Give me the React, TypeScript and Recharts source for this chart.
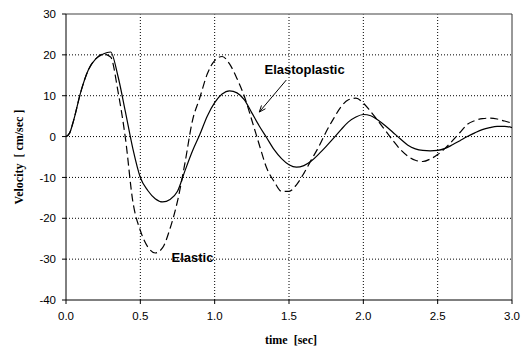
import {
  CartesianGrid,
  Label,
  Line,
  LineChart,
  ReferenceDot,
  ReferenceLine,
  XAxis,
  YAxis,
} from "recharts";

// time in seconds
const time = [
  0, 0.025, 0.05, 0.1, 0.15, 0.2, 0.25, 0.3, 0.35, 0.4, 0.45, 0.5, 0.55, 0.6,
  0.65, 0.7, 0.75, 0.8, 0.85, 0.9, 0.95, 1.0, 1.05, 1.1, 1.15, 1.2, 1.25, 1.3,
  1.35, 1.4, 1.45, 1.5, 1.55, 1.6, 1.65, 1.7, 1.75, 1.8, 1.85, 1.9, 1.95, 2.0,
  2.05, 2.1, 2.15, 2.2, 2.25, 2.3, 2.35, 2.4, 2.45, 2.5, 2.55, 2.6, 2.65, 2.7,
  2.75, 2.8, 2.85, 2.9, 2.95, 3.0,
];

// velocity, cm/sec
const elastic = [
  0, 0.9, 3.8, 11.0, 16.3, 19.0, 20.2, 19.5, 11.0, -0.5, -16.0, -23.0, -27.0,
  -28.5, -27.2, -22.5, -15.8, -6.5, 3.8, 9.5, 15.3, 18.6, 19.6, 17.8, 14.2, 9.8,
  4.0, -2.0, -7.7, -11.0, -13.4, -13.4, -11.8, -9.0, -5.7, -2.5, 1.2, 4.4, 7.3,
  9.0, 9.4, 8.2, 6.1, 3.8, 1.4, -1.0, -3.2, -4.8, -5.8, -6.1, -5.5, -4.4, -2.9,
  -1.0, 1.0, 3.0, 3.9, 4.4, 4.5, 4.3, 3.8, 3.3,
];

const elastoplastic = [
  0, 0.9, 3.8, 11.0, 16.3, 19.0, 20.2, 20.7, 14.7, 6.0, -3.0, -10.0, -13.2,
  -15.2, -16.0, -15.4, -13.4, -8.4, -3.6, 0.5, 5.0, 8.3, 10.4, 11.2, 10.7, 9.0,
  5.8, 2.6, -0.3, -3.2, -5.4, -6.9, -7.5, -7.1, -6.0, -4.3, -2.4, -0.4, 1.7,
  3.6, 4.8, 5.4, 5.1, 4.0, 2.6, 1.0, -0.6, -2.1, -3.0, -3.4, -3.5, -3.4, -2.9,
  -2.0, -1.0, 0.0, 0.9, 1.7, 2.2, 2.5, 2.5, 2.2,
];

const xTicks = [0, 0.5, 1.0, 1.5, 2.0, 2.5, 3.0];
const yTicks = [-40, -30, -20, -10, 0, 10, 20, 30];
const xGrid = [0.5, 1.0, 1.5, 2.0, 2.5];
const yGrid = [-30, -20, -10, 0, 10, 20];

const data = time.map((t, i) => ({
  t,
  elastic: elastic[i],
  elastoplastic: elastoplastic[i],
}));

const tickStyle = { fill: "#000", fontSize: 11.5, fontFamily: "Liberation Sans, Arial" };
const noteFont = { fontFamily: "Liberation Sans, Arial", fontWeight: "bold", fontSize: 13 };
const titleFont = { fontFamily: "Liberation Serif, Times New Roman", fontWeight: "bold", fontSize: 12 };

const YTitle = (props: any) => {
  const { x, y, height } = props.viewBox;
  const cx = x + 19;
  const cy = y + height / 2;
  return (
    <text
      x={cx}
      y={cy}
      transform={`rotate(-90, ${cx}, ${cy})`}
      textAnchor="middle"
      dominantBaseline="central"
      style={{ whiteSpace: "pre" }}
      {...titleFont}
    >
      {"Velocity  [ cm/sec ]"}
    </text>
  );
};

const XTitle = (props: any) => {
  const { x, y, width } = props.viewBox;
  return (
    <text
      x={x + width / 2 + 2}
      y={y + 40}
      textAnchor="middle"
      dominantBaseline="central"
      style={{ whiteSpace: "pre" }}
      {...titleFont}
    >
      {"time  [sec]"}
    </text>
  );
};

const Arrow = (p: any) => {
  const { cx, cy } = p;
  return (
    <g stroke="#000" strokeWidth={1} fill="none">
      <line x1={cx} y1={cy} x2={cx + 27} y2={cy - 32} />
      <polyline points={`${cx + 6.2},${cy - 3.3} ${cx},${cy} ${cx + 2.2},${cy - 6.6}`} />
    </g>
  );
};

const App = () => {
  return (
    <div style={{ position: "absolute", left: 0, top: 0, background: "#fff" }}>
      <LineChart
        width={530}
        height={351}
        data={data}
        margin={{ top: 14, right: 18, bottom: 21, left: 0 }}
      >
        <CartesianGrid
          stroke="#000"
          strokeDasharray="1 2"
          horizontalValues={yGrid}
          verticalValues={xGrid}
        />
        <XAxis
          dataKey="t"
          type="number"
          domain={[0, 3]}
          ticks={xTicks}
          tickFormatter={(v: number) => v.toFixed(1)}
          tick={tickStyle}
          height={30}
          tickSize={4}
          tickMargin={8}
          stroke="#000"
          allowDataOverflow
        >
          <Label content={XTitle} />
        </XAxis>
        <YAxis
          type="number"
          domain={[-40, 30]}
          ticks={yTicks}
          tick={tickStyle}
          width={66}
          tickSize={4}
          tickMargin={6}
          stroke="#000"
          allowDataOverflow
        >
          <Label content={YTitle} />
        </YAxis>
        <ReferenceLine y={30} stroke="#808080" strokeWidth={1.5} />
        <ReferenceLine x={3} stroke="#333" strokeWidth={1} />
        <Line
          type="monotone"
          dataKey="elastic"
          stroke="#000"
          strokeWidth={1.2}
          strokeDasharray="8 4"
          dot={false}
          activeDot={false}
          isAnimationActive={false}
        />
        <Line
          type="monotone"
          dataKey="elastoplastic"
          stroke="#000"
          strokeWidth={1.2}
          dot={false}
          activeDot={false}
          isAnimationActive={false}
        />
        <ReferenceDot x={1.3} y={6.0} r={0} shape={Arrow} />
        <ReferenceDot
          x={1.335}
          y={16.3}
          r={0}
          shape={(p: any) => (
            <text x={p.cx} y={p.cy} dominantBaseline="central" {...noteFont}>
              Elastoplastic
            </text>
          )}
        />
        <ReferenceDot
          x={0.71}
          y={-29.6}
          r={0}
          shape={(p: any) => (
            <text x={p.cx} y={p.cy} dominantBaseline="central" {...noteFont}>
              Elastic
            </text>
          )}
        />
      </LineChart>
    </div>
  );
};

export default App;
